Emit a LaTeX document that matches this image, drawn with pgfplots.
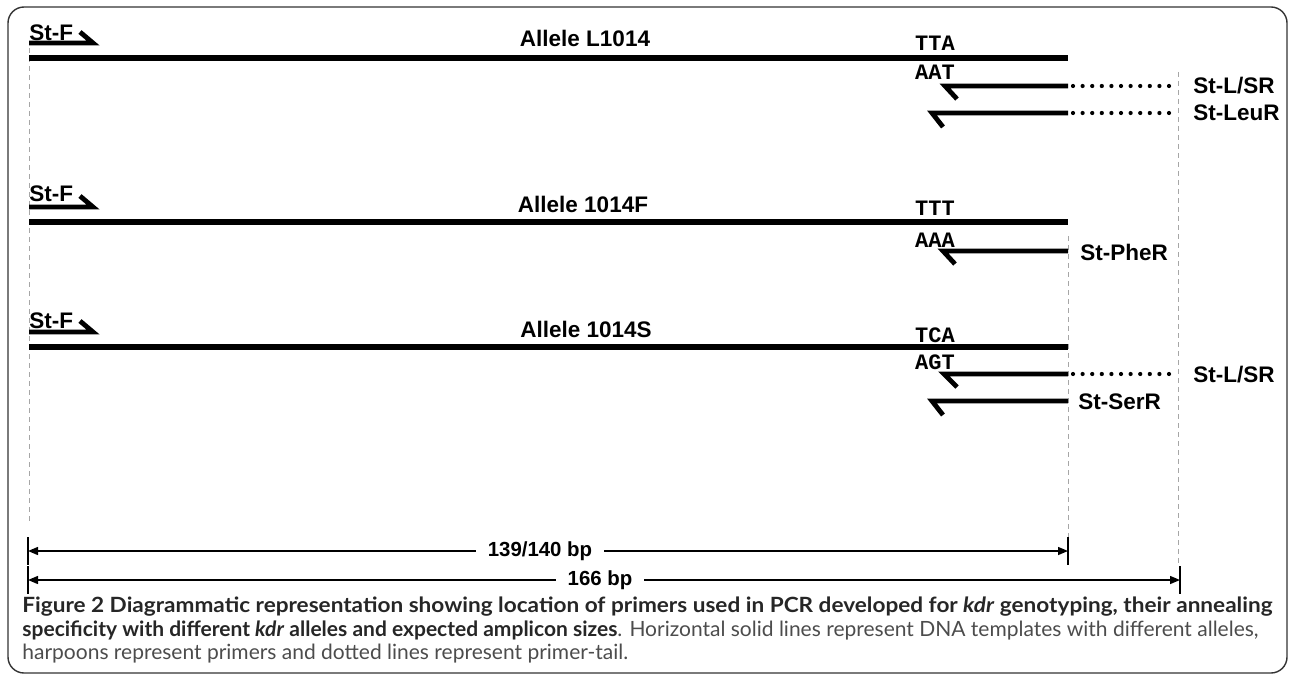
\documentclass[border=0pt]{standalone}
\usepackage{fontspec}
\setmainfont{Liberation Sans}
\newfontfamily\capfont{Lato}
\newfontfamily\codonfont{Liberation Mono}
\usepackage{pgfplots}
\pgfplotsset{compat=1.18}
\usetikzlibrary{arrows.meta}

% 1 px of the reference = 0.5pt
\newcommand{\lab}{\fontsize{11.25}{13}\selectfont\bfseries}
\newcommand{\cod}{\codonfont\fontsize{11}{13}\selectfont\bfseries}
\newcommand{\bpfont}{\fontsize{10.2}{12}\selectfont\bfseries}
\newcommand{\capf}{\capfont\fontsize{10.5}{12}\selectfont}

\begin{document}
\begin{tikzpicture}
\begin{axis}[
    width=646.5pt, height=339.5pt, scale only axis,
    xmin=0, xmax=1293, ymin=0, ymax=679, y dir=reverse,
    hide axis, clip=false,
    tmpl/.style={black, line width=2.8pt},
    primer/.style={black, line width=2.4pt},
    tail/.style={black, line width=2.1pt, line cap=round, dash pattern=on 0pt off 4.8pt},
    guide/.style={black!35, line width=0.5pt, dash pattern=on 2.5pt off 2pt},
    dim/.style={black, line width=0.7pt},
]
\path (axis cs:0,0) rectangle (axis cs:1293,679);

% guide lines
\addplot[guide] coordinates {(29,48) (29,522)};
\addplot[guide] coordinates {(1068,236) (1068,537)};
\addplot[guide] coordinates {(1178,72) (1178,565)};

% templates
\addplot[tmpl] coordinates {(29,58) (1068,58)};
\addplot[tmpl] coordinates {(29,222) (1068,222)};
\addplot[tmpl] coordinates {(29,347) (1068,347)};

% forward primers St-F
\addplot[primer] coordinates {(29,43) (93,43) (80,32)};
\addplot[primer] coordinates {(29,207) (93,207) (80,196)};
\addplot[primer] coordinates {(29,332) (93,332) (80,321)};

% reverse primers
\addplot[primer] coordinates {(957,99) (945,86) (1068,86)};
\addplot[primer] coordinates {(943,127) (932,113) (1068,113)};
\addplot[primer] coordinates {(955,264) (943,251) (1068,251)};
\addplot[primer] coordinates {(957,387) (944,374) (1068,374)};
\addplot[primer] coordinates {(943,415) (932,401) (1068,401)};

% primer tails
\addplot[tail] coordinates {(1073,86) (1176,86)};
\addplot[tail] coordinates {(1073,113) (1176,113)};
\addplot[tail] coordinates {(1073,374) (1176,374)};

% amplicon sizes
\addplot[dim, {Triangle[length=5pt,width=4pt]}-{Triangle[length=5pt,width=4pt]}] coordinates {(28,551) (1068,551)};
\addplot[dim] coordinates {(28,537) (28,565)};
\addplot[dim] coordinates {(1068,537) (1068,565)};
\addplot[dim, {Triangle[length=5pt,width=4pt]}-{Triangle[length=5pt,width=4pt]}] coordinates {(28,580) (1180,580)};
\addplot[dim] coordinates {(28,566) (28,594)};
\addplot[dim] coordinates {(1180,566) (1180,594)};

\node[fill=white, inner xsep=6pt, inner ysep=1pt] at (axis cs:540,551) {\bpfont 139/140 bp};
\node[fill=white, inner xsep=6pt, inner ysep=1pt] at (axis cs:600,580) {\bpfont 166 bp};

% labels
\node[anchor=west, inner sep=0pt] at (axis cs:29,33) {\lab St-F};
\node[anchor=west, inner sep=0pt] at (axis cs:29,194) {\lab St-F};
\node[anchor=west, inner sep=0pt] at (axis cs:29,321) {\lab St-F};
\node at (axis cs:585,38) {\lab Allele L1014};
\node at (axis cs:583,204) {\lab Allele 1014F};
\node at (axis cs:586,329) {\lab Allele 1014S};

\node at (axis cs:935,43) {\cod TTA};
\node at (axis cs:935,72) {\cod AAT};
\node at (axis cs:935,208) {\cod TTT};
\node at (axis cs:935,240) {\cod AAA};
\node at (axis cs:935,335) {\cod TCA};
\node at (axis cs:935,362) {\cod AGT};

\node[anchor=west, inner sep=0pt] at (axis cs:1193,86) {\lab St-L/SR};
\node[anchor=west, inner sep=0pt] at (axis cs:1193,113) {\lab St-LeuR};
\node[anchor=west, inner sep=0pt] at (axis cs:1080,252) {\lab St-PheR};
\node[anchor=west, inner sep=0pt] at (axis cs:1193,375) {\lab St-L/SR};
\node[anchor=west, inner sep=0pt] at (axis cs:1078,402) {\lab St-SerR};

% caption
\node[anchor=base west, inner sep=0pt, text=black!85] at (axis cs:22,612)
  {\scalebox{1.075}[1]{\capf\bfseries Figure 2 Diagrammatic representation showing location of primers used in PCR developed for \textit{kdr} genotyping, their annealing}};
\node[anchor=base west, inner sep=0pt, text=black!85] at (axis cs:22,636)
  {\capf\textbf{specificity with different \textit{kdr} alleles and expected amplicon sizes}\textcolor{black!70}{. Horizontal solid lines represent DNA templates with different alleles,}};
\node[anchor=base west, inner sep=0pt, text=black!70] at (axis cs:22,659)
  {\capf harpoons represent primers and dotted lines represent primer-tail.};

% frame
\draw[black!80, line width=0.7pt, rounded corners=8pt] (axis cs:8,7) rectangle (axis cs:1287,673);
\end{axis}
\end{tikzpicture}
\end{document}
